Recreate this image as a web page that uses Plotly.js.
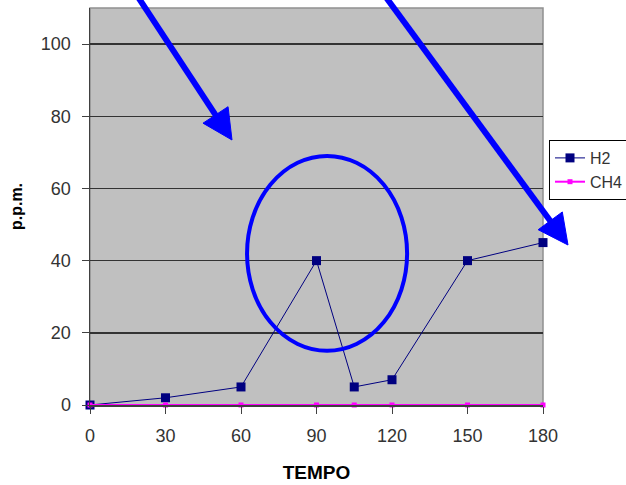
<!DOCTYPE html>
<html>
<head>
<meta charset="utf-8">
<script src="https://cdn.plot.ly/plotly-3.0.1.min.js"></script>
<style>html,body{margin:0;padding:0;background:#fff;}#chart{width:626px;height:485px;}</style>
</head>
<body>
<div id="chart"></div>
<script>
const tempo = [0, 30, 60, 90, 105, 120, 150, 180];
const h2 = [0, 2, 5, 40, 5, 7, 40, 45];
const ch4 = [0, 0, 0, 0, 0, 0, 0, 0];
const xTicks = [0, 30, 60, 90, 120, 150, 180];
const yTicks = [0, 20, 40, 60, 80, 100];

const W = 626, H = 485;
const M = {l: 90, r: 83, t: 8, b: 80, autoexpand: false};
const pw = W - M.l - M.r, ph = H - M.t - M.b;
function px(x) { return (x - M.l) / pw; }
function py(y) { return (H - M.b - y) / ph; }

function arrowShapes(x0, y0, x1, y1) {
  const dx = x1 - x0, dy = y1 - y0, L = Math.hypot(dx, dy);
  const ux = dx / L, uy = dy / L;
  const hl = 30, hw = 15;
  const bx = x1 - hl * ux, by = y1 - hl * uy;
  const cx1 = bx + hw * uy, cy1 = by - hw * ux;
  const cx2 = bx - hw * uy, cy2 = by + hw * ux;
  return [
    {type: 'line', xref: 'paper', yref: 'paper', x0: px(x0), y0: py(y0), x1: px(bx + 2 * ux), y1: py(by + 2 * uy),
     line: {color: '#0000FF', width: 6}},
    {type: 'path', xref: 'paper', yref: 'paper',
     path: 'M' + px(x1) + ',' + py(y1) + ' L' + px(cx1) + ',' + py(cy1) + ' L' + px(cx2) + ',' + py(cy2) + ' Z',
     fillcolor: '#0000FF', line: {color: '#0000FF', width: 1}}
  ];
}

const font = 'Liberation Sans, Arial, sans-serif';

const traces = [
  {x: tempo, y: h2, name: 'H2', type: 'scatter', mode: 'lines+markers', cliponaxis: false,
   line: {color: '#000080', width: 1}, marker: {symbol: 'square', size: 9, color: '#000080'}},
  {x: tempo, y: ch4, name: 'CH4', type: 'scatter', mode: 'lines+markers', cliponaxis: false,
   line: {color: '#FF00FF', width: 2}, marker: {symbol: 'square', size: 5, color: '#FF00FF'}}
];

const shapes = [
  {type: 'rect', xref: 'paper', yref: 'paper', x0: 0, y0: 0, x1: 1, y1: 1, layer: 'below',
   line: {color: '#909090', width: 1.5}},
  {type: 'circle', xref: 'x', yref: 'y', x0: 62.4, x1: 126, y0: 15, y1: 69,
   line: {color: '#0000FF', width: 4}}
].concat(arrowShapes(136.7, -5, 232, 140)).concat(arrowShapes(384.3, -5, 568, 245));

const layout = {
  width: W, height: H,
  margin: M,
  paper_bgcolor: '#FFFFFF',
  plot_bgcolor: '#C0C0C0',
  font: {family: font, size: 18, color: '#333333'},
  showlegend: true,
  legend: {x: px(549), y: py(140), xanchor: 'left', yanchor: 'top',
           bgcolor: '#FFFFFF', bordercolor: '#000000', borderwidth: 1,
           itemwidth: 30,
           font: {family: font, size: 16, color: '#333333'}},
  xaxis: {range: [0, 180], tickvals: xTicks, ticktext: xTicks.map(String),
          showgrid: false, zeroline: false, showline: true, linecolor: '#404040', linewidth: 1.5,
          ticks: 'outside', ticklen: 7, tickcolor: '#404040', tickwidth: 1,
          ticklabelstandoff: 7,
          tickfont: {family: font, size: 18, color: '#333333'},
          title: {text: '<b>TEMPO</b>', font: {family: font, size: 19, color: '#000000'}, standoff: 20}},
  yaxis: {range: [0, 110], tickvals: yTicks, ticktext: yTicks.map(String),
          showgrid: true, gridcolor: '#333333', gridwidth: 1.5, zeroline: false,
          showline: true, linecolor: '#404040', linewidth: 1.5,
          ticks: 'outside', ticklen: 7, tickcolor: '#404040', tickwidth: 1,
          ticklabelstandoff: 7,
          tickfont: {family: font, size: 18, color: '#333333'},
          title: {text: '<b>p.p.m.</b>', font: {family: font, size: 16, color: '#000000'}, standoff: 14}},
  shapes: shapes
};

Plotly.newPlot('chart', traces, layout, {displayModeBar: false, staticPlot: true});
</script>
</body>
</html>
